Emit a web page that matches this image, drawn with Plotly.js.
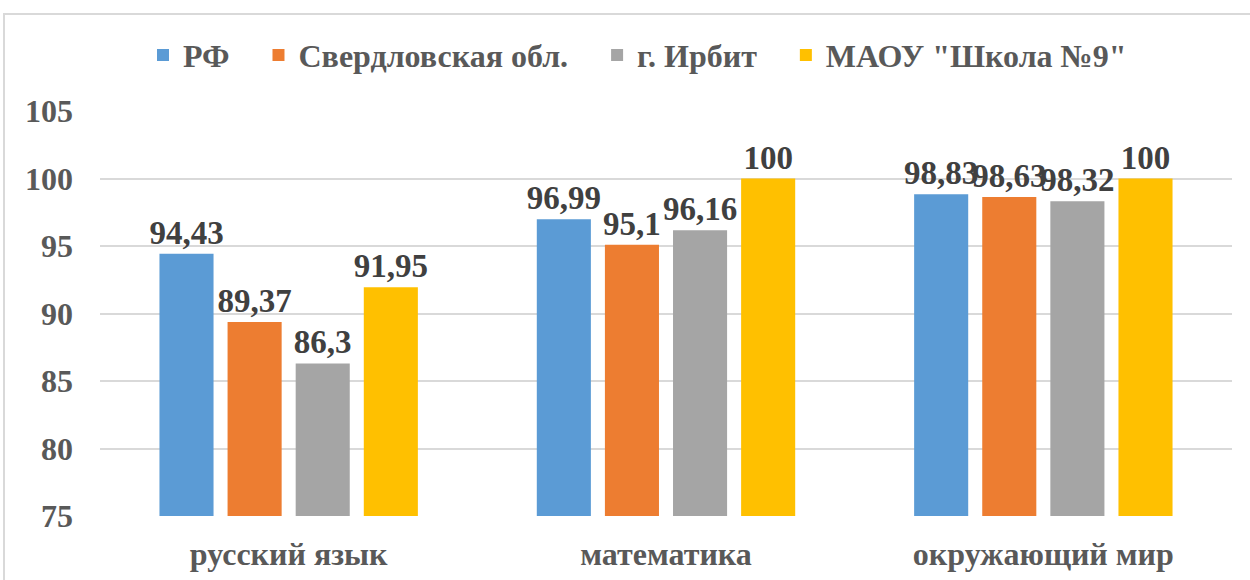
<!DOCTYPE html>
<html>
<head>
<meta charset="utf-8">
<script src="https://cdn.plot.ly/plotly-3.0.1.min.js"></script>
<style>
  body { margin: 0; background: #fff; }
  #frame { position: absolute; left: 3px; top: 13px; width: 1300px; height: 620px; border: 2px solid #d9d9d9; }
  #plotDiv { position: absolute; left: 0; top: 0; width: 1250px; height: 580px; }
</style>
</head>
<body>
<div id="frame"></div>
<div id="plotDiv"></div>
<script>
var subjects = ['русский язык', 'математика', 'окружающий мир'];
var seriesNames = ['РФ', 'Свердловская обл.', 'г. Ирбит', 'МАОУ "Школа №9"'];
var rfValues = [94.43, 96.99, 98.83];
var regionValues = [89.37, 95.1, 98.63];
var irbitValues = [86.3, 96.16, 98.32];
var schoolValues = [91.95, 100, 100];
var yTicks = [75, 80, 85, 90, 95, 100, 105];

var seriesColors = ['#5b9bd5', '#ed7d31', '#a5a5a5', '#ffc000'];
var textColor = '#595959';
var serif = 'Liberation Serif';
var legendPad = '\u00a0\u00a0\u00a0';  // extra room between legend entries

function commaText(values) {
    return values.map(function (v) { return String(v).replace('.', ','); });
}

function makeTrace(name, values, color) {
    return {
        type: 'bar',
        name: name,
        x: subjects,
        y: values,
        text: commaText(values),
        textposition: 'outside',
        constraintext: 'none',
        cliponaxis: false,
        textfont: {family: serif, size: 33, weight: 'bold', color: '#404040'},
        marker: {color: color},
        hoverinfo: 'none'
    };
}

var plotData = [
    makeTrace(seriesNames[0] + legendPad, rfValues, seriesColors[0]),
    makeTrace(seriesNames[1] + legendPad, regionValues, seriesColors[1]),
    makeTrace(seriesNames[2] + legendPad, irbitValues, seriesColors[2]),
    makeTrace(seriesNames[3], schoolValues, seriesColors[3])
];

var layoutOpt = {
    width: 1250,
    height: 580,
    barmode: 'group',
    bargap: 0.278,
    bargroupgap: 0.206,
    paper_bgcolor: 'rgba(0,0,0,0)',
    plot_bgcolor: 'rgba(0,0,0,0)',
    font: {family: serif, weight: 'bold', color: textColor},
    margin: {l: 100, r: 18, t: 111, b: 64},
    showlegend: true,
    legend: {
        orientation: 'h',
        xref: 'container',
        yref: 'container',
        x: 0.51,
        xanchor: 'center',
        y: 0.905,
        yanchor: 'middle',
        font: {family: serif, size: 32, weight: 'bold', color: textColor},
        itemwidth: 30,
        traceorder: 'normal'
    },
    xaxis: {
        type: 'category',
        showline: false,
        ticks: '',
        ticklabelstandoff: 16,
        tickfont: {family: serif, size: 32, weight: 'bold', color: textColor}
    },
    yaxis: {
        range: [75, 105],
        tickvals: yTicks,
        showgrid: true,
        gridcolor: '#d9d9d9',
        gridwidth: 2,
        zeroline: false,
        showline: false,
        ticklabelstandoff: 26,
        tickfont: {family: serif, size: 32, weight: 'bold', color: textColor}
    }
};

Plotly.newPlot('plotDiv', plotData, layoutOpt, {displayModeBar: false, staticPlot: true});
</script>
</body>
</html>
